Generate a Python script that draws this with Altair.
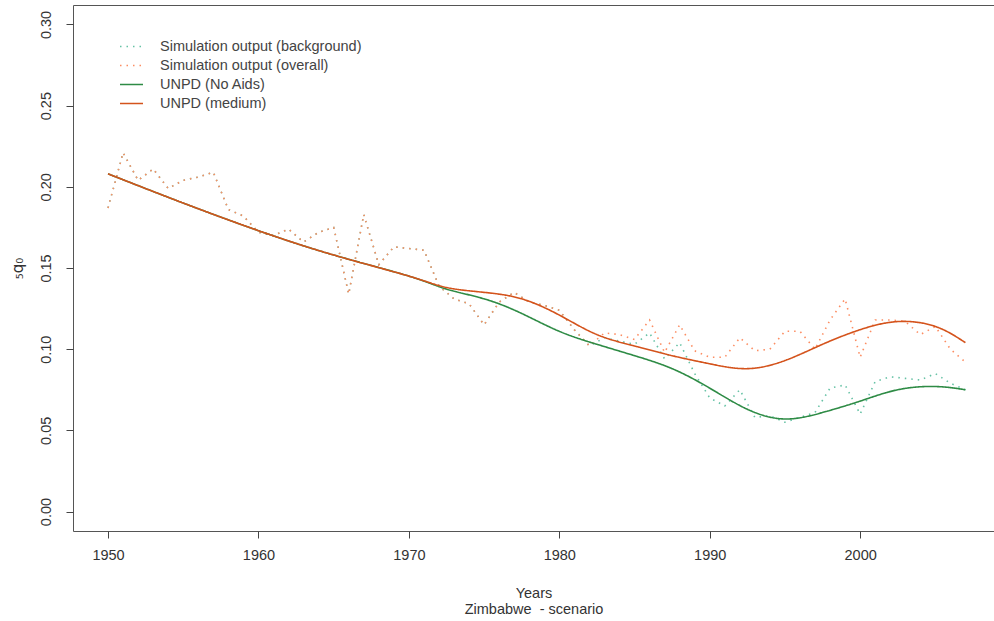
import altair as alt
import pandas as pd

FONT = "Liberation Sans"

years = list(range(1950, 2008))

overall = [0.187, 0.221, 0.204, 0.211, 0.199, 0.204, 0.206, 0.209, 0.186, 0.182,
           0.172, 0.170, 0.174, 0.166, 0.172, 0.175, 0.134, 0.183, 0.152, 0.163,
           0.162, 0.161, 0.139, 0.131, 0.128, 0.115, 0.129, 0.135, 0.129, 0.127,
           0.124, 0.112, 0.102, 0.110, 0.109, 0.106, 0.118, 0.098, 0.115, 0.099,
           0.095, 0.095, 0.107, 0.099, 0.100, 0.111, 0.111, 0.100, 0.118, 0.131,
           0.095, 0.118, 0.118, 0.117, 0.109, 0.114, 0.100, 0.092]

background = [0.187, 0.221, 0.204, 0.211, 0.199, 0.204, 0.206, 0.209, 0.186, 0.182,
              0.172, 0.170, 0.174, 0.166, 0.172, 0.175, 0.134, 0.183, 0.152, 0.163,
              0.162, 0.161, 0.139, 0.131, 0.128, 0.115, 0.129, 0.135, 0.129, 0.127,
              0.124, 0.112, 0.102, 0.107, 0.105, 0.103, 0.110, 0.094, 0.104, 0.085,
              0.070, 0.065, 0.075, 0.058, 0.059, 0.055, 0.058, 0.061, 0.076, 0.078,
              0.060, 0.080, 0.083, 0.082, 0.081, 0.085, 0.079, 0.075]

unpd_years = [1950, 1955, 1960, 1965, 1970, 1972.5, 1975, 1977.5, 1980, 1982.5,
              1985, 1987.5, 1990, 1992.5, 1995, 1997.5, 2000, 2002.5, 2005, 2007]
unpd_medium = [0.208, 0.190, 0.173, 0.158, 0.145, 0.138, 0.135, 0.131, 0.121, 0.109,
               0.102, 0.096, 0.091, 0.088, 0.093, 0.103, 0.112, 0.117, 0.114, 0.104]
unpd_noaids = [0.208, 0.190, 0.173, 0.158, 0.145, 0.137, 0.131, 0.122, 0.111, 0.103,
               0.096, 0.088, 0.076, 0.063, 0.057, 0.061, 0.068, 0.075, 0.077, 0.075]

series = ["Simulation output (background)", "Simulation output (overall)",
          "UNPD (No Aids)", "UNPD (medium)"]
colors = ["#66C2A5", "#FC8D62", "#2E8B45", "#D4531C"]

x_ticks = [1950, 1960, 1970, 1980, 1990, 2000]
y_ticks = [0.0, 0.05, 0.10, 0.15, 0.20, 0.25, 0.30]

df_bg = pd.DataFrame({"year": years, "q": background, "series": series[0]})
df_ov = pd.DataFrame({"year": years, "q": overall, "series": series[1]})
df_na = pd.DataFrame({"year": unpd_years, "q": unpd_noaids, "series": series[2]})
df_md = pd.DataFrame({"year": unpd_years, "q": unpd_medium, "series": series[3]})

x_enc = alt.X("year:Q",
              scale=alt.Scale(domain=[1947.67, 2008.9], nice=False, zero=False),
              axis=alt.Axis(values=x_ticks, format="d", domain=False, grid=False,
                            tickSize=7, tickColor="#444", labelFont=FONT,
                            labelFontSize=14.5, labelColor="#333", labelPadding=10,
                            title=["Years", "Zimbabwe\u00a0\u00a0- scenario"],
                            titleFont=FONT, titleFontSize=14.5, titleFontWeight="normal",
                            titleColor="#333", titlePadding=25, titleLineHeight=16))
y_enc = alt.Y("q:Q",
              scale=alt.Scale(domain=[-0.012, 0.312], nice=False, zero=False),
              axis=alt.Axis(values=y_ticks, format=".2f", domain=False, grid=False,
                            tickSize=7, tickColor="#444", labelFont=FONT,
                            labelFontSize=14.5, labelColor="#333", labelAngle=270,
                            labelAlign="center", labelBaseline="bottom",
                            labelPadding=13, title="\u2085q\u2080", titleFont="DejaVu Sans",
                            titleFontSize=15, titleFontWeight="normal",
                            titleColor="#333", titleAngle=270, titlePadding=13))


def leg():
    return alt.Legend(orient="none", legendX=46, legendY=29, title=None,
                      symbolType="stroke", symbolSize=529, labelFont=FONT,
                      labelFontSize=14.5, labelColor="#444", labelLimit=0,
                      labelOffset=16, rowPadding=0, padding=0)


color_enc = alt.Color("series:N", scale=alt.Scale(domain=series, range=colors),
                      legend=leg())
dash_enc = alt.StrokeDash("series:N",
                          scale=alt.Scale(domain=series,
                                          range=[[1.5, 5], [1.5, 5], [1, 0], [1, 0]]),
                          legend=leg())
width_enc = alt.StrokeWidth("series:N",
                            scale=alt.Scale(domain=series, range=[1.6, 1.6, 3, 3]),
                            legend=leg())


def line(df, interp):
    return alt.Chart(df).mark_line(interpolate=interp, clip=True).encode(
        x=x_enc, y=y_enc, color=color_enc, strokeDash=dash_enc, strokeWidth=width_enc)


chart = alt.layer(
    line(df_bg, "linear"),
    line(df_ov, "linear"),
    line(df_na, "natural"),
    line(df_md, "natural"),
).properties(
    width=921, height=526,
    autosize=alt.AutoSizeParams(type="none"),
    padding={"left": 73, "top": 5, "right": 0, "bottom": 90},
    background="white",
).configure_view(stroke="#555", strokeWidth=1)

chart.save("out.html", embed_options={"renderer": "svg", "actions": False})
